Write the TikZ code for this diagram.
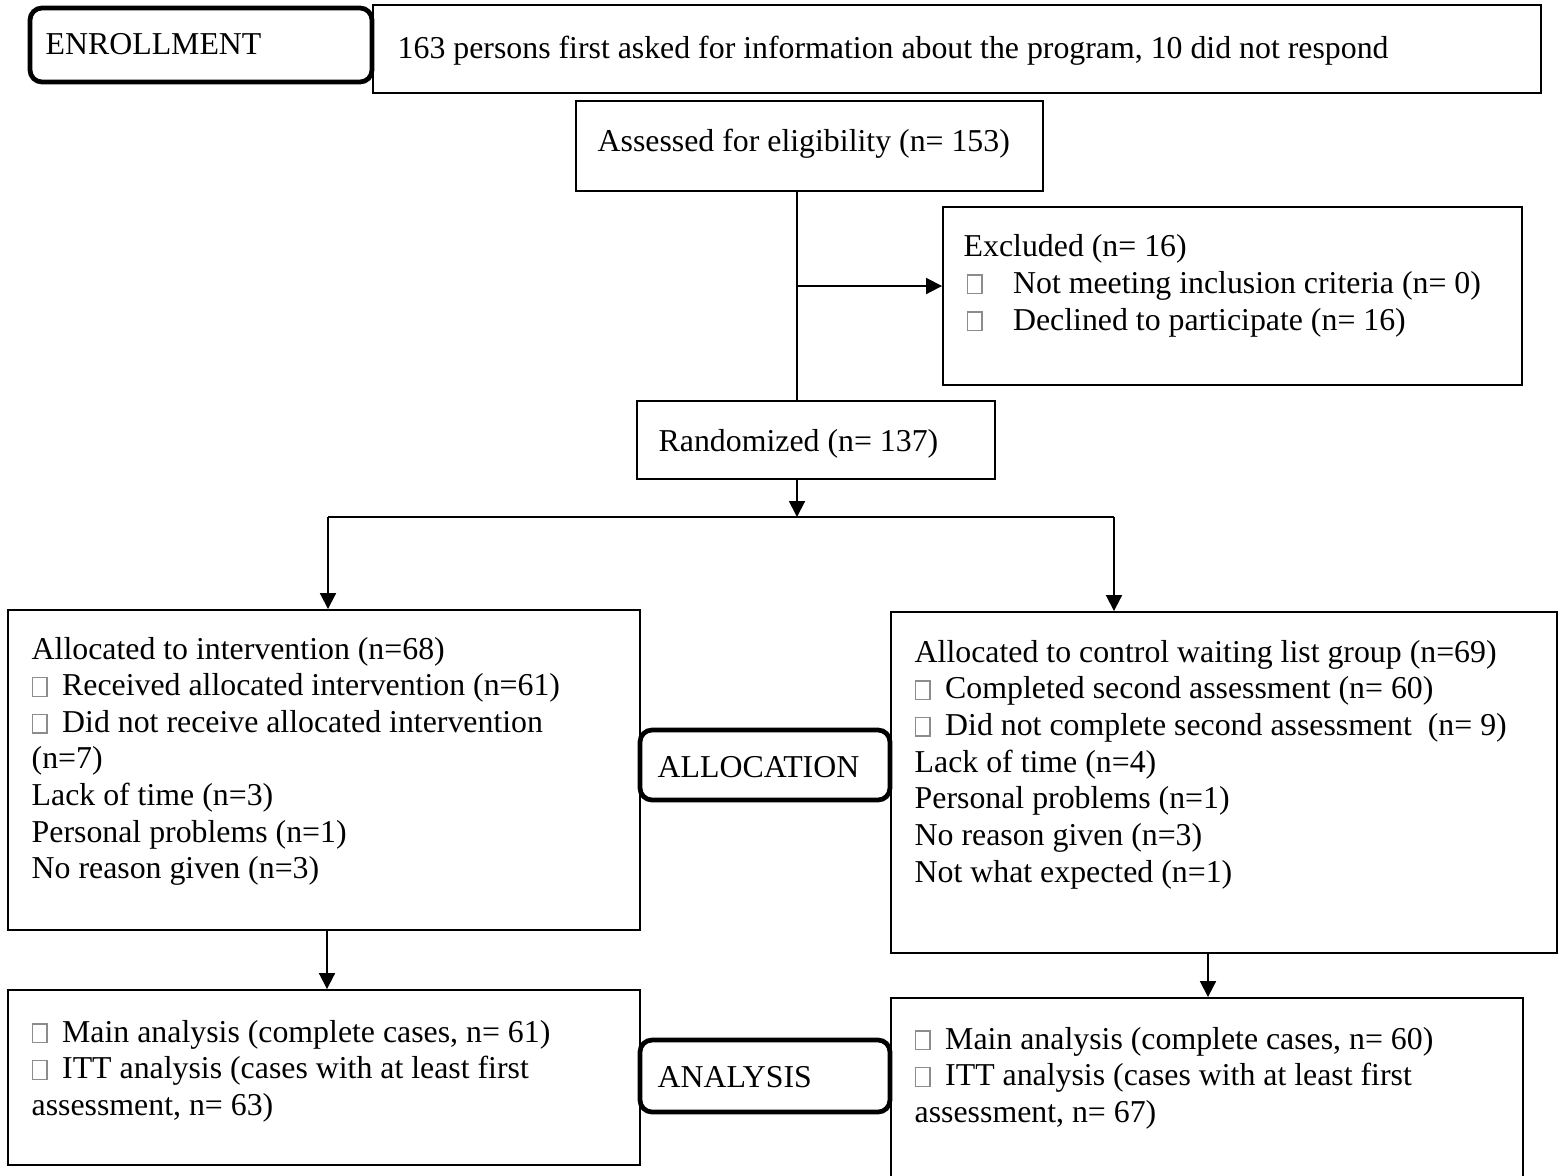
\documentclass[tikz,border=0pt]{standalone}
\usepackage{fontspec}
\setmainfont{Liberation Serif}
\usetikzlibrary{arrows.meta,fit}

% hollow grey square used as a bullet
\newcommand\chk{{\color{black!45}\setlength\fboxrule{0.4pt}\setlength\fboxsep{0pt}\fbox{\rule{0pt}{0.54em}\hspace{0.42em}}}\hspace{0.45em}}

\begin{document}
\begin{tikzpicture}[x=0.01cm,y=-0.01cm,
  txt/.style={anchor=base west,inner sep=0pt,font=\fontsize{9.05pt}{10.4pt}\selectfont},
  box/.style={draw,line width=0.55pt,inner sep=0pt},
  tag/.style={draw,line width=1.35pt,inner sep=0pt,rounded corners=0.12cm},
  arrow/.style={line width=0.55pt,-{Triangle[length=4.5pt,width=4.5pt]}},
  link/.style={line width=0.55pt}]
\useasboundingbox (0,0) rectangle (1558,1175);

% boxes
\node[tag,fit={(30,8) (372,82)}] (enr) {};
\node[box,fit={(373,5) (1541,93)}] (first) {};
\node[box,fit={(576,101) (1043,191)}] (assess) {};
\node[box,fit={(943,207) (1522,385)}] (excl) {};
\node[box,fit={(637,401) (995,479)}] (rand) {};
\node[box,fit={(8,610) (640,930)}] (allocL) {};
\node[tag,fit={(640,730) (890,800)}] (alloctag) {};
\node[box,fit={(891,612) (1557,953)}] (allocR) {};
\node[box,fit={(8,990) (640,1165)}] (anaL) {};
\node[tag,fit={(640,1040) (890,1112)}] (anatag) {};
\node[box,fit={(891,998) (1523,1190)}] (anaR) {};

% texts
\node[txt] (t-enr) at (45,54) {ENROLLMENT};
\node[txt] (t-first) at (397,58) {163 persons first asked for information about the program, 10 did not respond};
\node[txt] (t-assess) at (597,151) {Assessed for eligibility (n= 153)};
\node[txt] (t-ex1) at (963,256) {Excluded (n= 16)};
\node[txt] (t-ex2) at (966,293) {\chk\hspace{0.5em}Not meeting inclusion criteria (n= 0)};
\node[txt] (t-ex3) at (966,330) {\chk\hspace{0.5em}Declined to participate (n= 16)};
\node[txt] (t-rand) at (658,451) {Randomized (n= 137)};

\foreach \t [count=\i] in {
  {Allocated to intervention (n=68)},
  {\chk Received allocated intervention (n=61)},
  {\chk Did not receive allocated intervention},
  {(n=7)},
  {Lack of time (n=3)},
  {Personal problems (n=1)},
  {No reason given (n=3)}}
  \node[txt] (t-aL\i) at (31,{659+36.6*(\i-1)}) {\t};

\foreach \t [count=\i] in {
  {Allocated to control waiting list group (n=69)},
  {\chk Completed second assessment (n= 60)},
  {\chk Did not complete second assessment\ \ (n= 9)},
  {Lack of time (n=4)},
  {Personal problems (n=1)},
  {No reason given (n=3)},
  {Not what expected (n=1)}}
  \node[txt] (t-aR\i) at (914,{662+36.7*(\i-1)}) {\t};

\node[txt] (t-alloc) at (657,777) {ALLOCATION};
\node[txt] (t-ana) at (657,1087) {ANALYSIS};

\foreach \t [count=\i] in {
  {\chk Main analysis (complete cases, n= 61)},
  {\chk ITT analysis (cases with at least first},
  {assessment, n= 63)}}
  \node[txt] (t-zL\i) at (31,{1042+36.6*(\i-1)}) {\t};

\foreach \t [count=\i] in {
  {\chk Main analysis (complete cases, n= 60)},
  {\chk ITT analysis (cases with at least first},
  {assessment, n= 67)}}
  \node[txt] (t-zR\i) at (914,{1049+36.6*(\i-1)}) {\t};

% connectors
\coordinate (trunk) at (797,286);
\coordinate (split) at (797,517);
\coordinate (splitL) at (328,517);
\coordinate (splitR) at (1114,517);
\coordinate (downL) at (327,930);
\coordinate (downR) at (1208,953);

\draw[link] (assess.south -| trunk) -- (rand.north -| trunk);
\draw[arrow] (trunk) -- (trunk -| excl.west);
\draw[arrow] (rand.south -| split) -- (split);
\draw[link] (splitL) -- (splitR);
\draw[arrow] (splitL) -- (splitL |- allocL.north);
\draw[arrow] (splitR) -- (splitR |- allocR.north);
\draw[arrow] (allocL.south -| downL) -- (downL |- anaL.north);
\draw[arrow] (allocR.south -| downR) -- (downR |- anaR.north);
\end{tikzpicture}
\end{document}
